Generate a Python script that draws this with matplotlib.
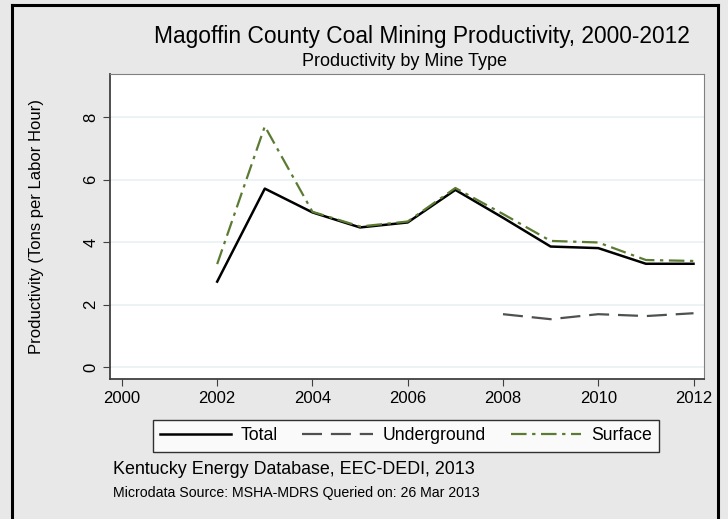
import numpy as np
import matplotlib
matplotlib.use("Agg")
from matplotlib import pyplot as plt
from matplotlib.lines import Line2D

plt.rcParams['font.family'] = ['Liberation Sans', 'DejaVu Sans']

years = [2002, 2003, 2004, 2005, 2006, 2007, 2008, 2009, 2010, 2011, 2012]
total = [2.74, 5.71, 4.95, 4.47, 4.63, 5.67, 4.78, 3.86, 3.81, 3.31, 3.31]
surface = [3.30, 7.70, 4.97, 4.50, 4.66, 5.73, 4.90, 4.04, 3.99, 3.43, 3.40]
ug_years = [2008, 2009, 2010, 2011, 2012]
underground = [1.70, 1.54, 1.70, 1.64, 1.73]

bg = '#e8e8e8'
W, H = 728, 519
fig = plt.figure(figsize=(7.28, 5.19), dpi=100, facecolor=bg)

# outer frame (open at the bottom, like the reference)
x0, x1, y0 = 12 / W, 718 / W, 1 - 5 / H
for xs, ys in [([x0, x0], [0, y0]), ([x1, x1], [0, y0]), ([x0, x1], [y0, y0])]:
    fig.add_artist(Line2D(xs, ys, transform=fig.transFigure,
                          color='black', linewidth=2.2))

ax = fig.add_axes([110 / W, 1 - 379 / H, 594 / W, 305 / H])
ax.set_facecolor('white')

ax.plot(years, total, color='black', linewidth=1.8, label='Total')
ax.plot(ug_years, underground, color='#505050', linewidth=1.6,
        dashes=(9, 4), label='Underground')
ax.plot(years, surface, color='#5b7b33', linewidth=1.6,
        dashes=(7, 2.5, 1.5, 2.5), label='Surface')

ax.set_xlim(1999.75, 2012.22)
ax.set_ylim(-0.37, 9.37)
ax.set_xticks(range(2000, 2013, 2))
ax.set_yticks([0, 2, 4, 6, 8])
ax.tick_params(axis='both', labelsize=12, color='#404040', length=5)
ax.tick_params(axis='y', labelrotation=90)
for lab in ax.get_yticklabels():
    lab.set_va('center')
ax.grid(axis='y', color='#eaf1f2', linewidth=1.2)
ax.set_axisbelow(True)
for s in ['left', 'bottom']:
    ax.spines[s].set_color('#404040')
    ax.spines[s].set_linewidth(1.3)
for s in ['top', 'right']:
    ax.spines[s].set_color('#808080')
    ax.spines[s].set_linewidth(0.8)

ax.set_ylabel('Productivity (Tons per Labor Hour)', fontsize=12, labelpad=28)

fig.text(422 / W, 1 - 37 / H, 'Magoffin County Coal Mining Productivity, 2000-2012',
         ha='center', va='center', fontsize=16.4)
fig.text(404 / W, 1 - 61 / H, 'Productivity by Mine Type',
         ha='center', va='center', fontsize=13)

leg = fig.legend(loc='center', bbox_to_anchor=(406 / W, 1 - 436 / H), ncol=3,
                 fontsize=12.7, frameon=True, fancybox=False, edgecolor='black',
                 handlelength=4.0, handletextpad=0.55, columnspacing=1.4,
                 borderpad=0.4, borderaxespad=0)
leg.get_frame().set_linewidth(1.0)

fig.text(113 / W, 1 - 469 / H, 'Kentucky Energy Database, EEC-DEDI, 2013',
         ha='left', va='center', fontsize=12.9)
fig.text(113 / W, 1 - 493 / H, 'Microdata Source: MSHA-MDRS Queried on: 26 Mar 2013',
         ha='left', va='center', fontsize=10.2)

fig.savefig('out.png', dpi=100, facecolor=bg)
